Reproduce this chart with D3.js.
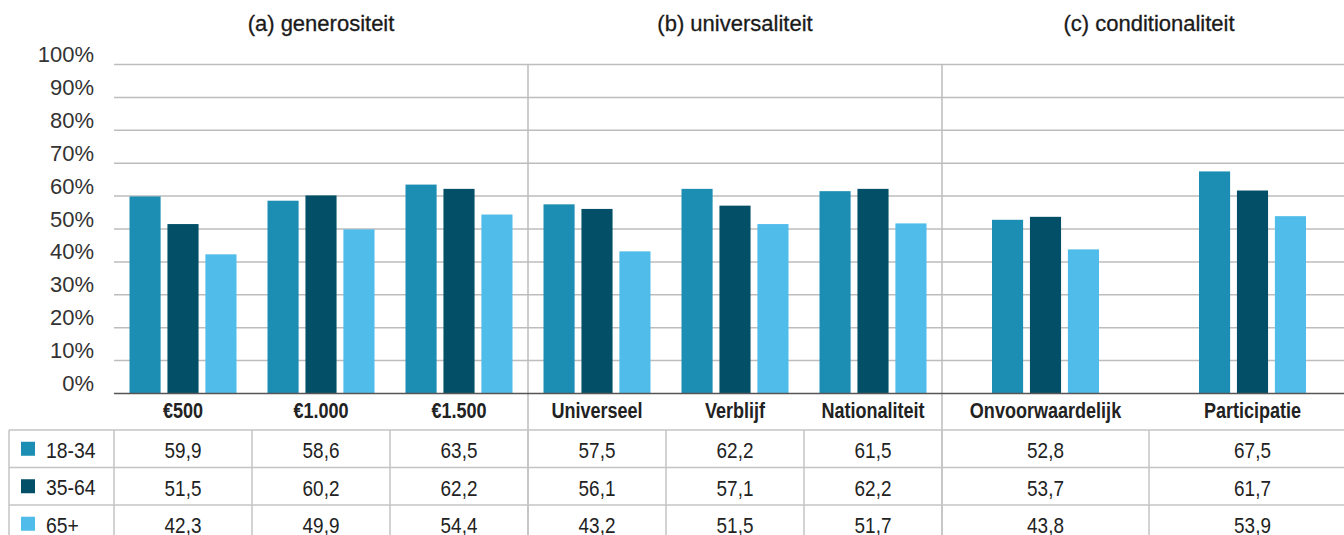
<!DOCTYPE html>
<html>
<head>
<meta charset="utf-8">
<script src="https://cdn.jsdelivr.net/npm/d3@7"></script>
<style>
  body { margin: 0; background: #fff; }
  svg { display: block; }
</style>
</head>
<body>
<div id="chart"></div>
<script>
var categories = ["€500", "€1.000", "€1.500", "Universeel", "Verblijf", "Nationaliteit", "Onvoorwaardelijk", "Participatie"]
var panelOf = [0, 0, 0, 1, 1, 1, 2, 2]
var panels = ["(a) generositeit", "(b) universaliteit", "(c) conditionaliteit"]
var series = ["18-34", "35-64", "65+"]
var v1834 = [59.9, 58.6, 63.5, 57.5, 62.2, 61.5, 52.8, 67.5]
var v3564 = [51.5, 60.2, 62.2, 56.1, 57.1, 62.2, 53.7, 61.7]
var v65 = [42.3, 49.9, 54.4, 43.2, 51.5, 51.7, 43.8, 53.9]
var yTicks = [0, 10, 20, 30, 40, 50, 60, 70, 80, 90, 100]

var values = [v1834, v3564, v65]
var colors = ["#1c8eb3", "#034f67", "#50bcea"]

var w = 1344, h = 535
var plotLeft = 114
var svg = d3.select("#chart").append("svg")
    .attr("width", w)
    .attr("height", h)

var font = "'Liberation Sans', Arial, sans-serif"

// condensed look: squeeze the text horizontally
function narrow(sel, x, y, sx) {
  sel.attr("transform", (d, i) => "translate(" + x(d, i) + "," + y(d, i) + ") scale(" + sx + ",1)")
}

var yScale = d3.scaleLinear().domain([0, 100]).range([393.5, 64.5])

// panels are 414 wide, the last one is cut off by the right edge
var panelScale = d3.scaleBand().domain(d3.range(panels.length)).range([plotLeft, plotLeft + 414 * 3])

function columnScale(p) {
  var cats = categories.filter((c, i) => panelOf[i] == p)
  return d3.scaleBand().domain(cats)
      .range([panelScale(p), panelScale(p) + panelScale.bandwidth()])
}
var colX = {}
panels.forEach((p, i) => {
  var s = columnScale(i)
  s.domain().forEach(c => { colX[c] = [s(c), s(c) + s.bandwidth()] })
})
function colMid(c) { return (colX[c][0] + colX[c][1]) / 2 }

// gridlines
svg.append("g").selectAll("line")
    .data(yTicks.filter(d => d > 0))
  .enter().append("line")
    .attr("x1", plotLeft).attr("x2", w)
    .attr("y1", d => yScale(d)).attr("y2", d => yScale(d))
    .attr("stroke", "#bdbdbd")
    .attr("stroke-width", 1.5)

// y labels
svg.append("g").selectAll("text")
    .data(yTicks)
  .enter().append("text")
    .attr("x", 94)
    .attr("y", d => yScale(d) - 2.5)
    .attr("text-anchor", "end")
    .style("font-family", font)
    .style("font-size", "22px")
    .style("fill", "#333")
    .text(d => d + "%")

// panel separators
var rowTop = 430, rowH = 37.5
svg.append("g").selectAll("line")
    .data([1, 2])
  .enter().append("line")
    .attr("x1", d => panelScale(d)).attr("x2", d => panelScale(d))
    .attr("y1", yScale(100)).attr("y2", h)
    .attr("stroke", "#bdbdbd")
    .attr("stroke-width", 1.5)

// panel titles
svg.append("g").selectAll("text")
    .data(panels)
  .enter().append("text")
    .attr("x", (d, i) => Math.min(panelScale(i) + panelScale.bandwidth() / 2, 1150))
    .attr("y", 31)
    .attr("text-anchor", "middle")
    .style("font-family", font)
    .style("font-size", "22px")
    .style("fill", "#1a1a1a")
    .style("stroke", "#1a1a1a")
    .style("stroke-width", 0.3)
    .text(d => d)

// bars
var groupW = 107
var bars = svg.append("g")
categories.forEach((c, ci) => {
  var cx = colMid(c)
  var inner = d3.scaleBand().domain(series)
      .range([cx - groupW / 2, cx + groupW / 2])
      .paddingInner(0.18)
  series.forEach((s, si) => {
    var v = values[si][ci]
    bars.append("rect")
        .attr("x", inner(s))
        .attr("y", yScale(v))
        .attr("width", inner.bandwidth())
        .attr("height", yScale(0) - yScale(v))
        .attr("fill", colors[si])
  })
})

// axis line
svg.append("line")
    .attr("x1", plotLeft).attr("x2", w)
    .attr("y1", yScale(0)).attr("y2", yScale(0))
    .attr("stroke", "#555")
    .attr("stroke-width", 1.5)

// category labels
svg.append("g").selectAll("text")
    .data(categories)
  .enter().append("text")
    .attr("text-anchor", "middle")
    .style("font-family", font)
    .style("font-size", "22px")
    .style("font-weight", "bold")
    .style("fill", "#222")
    .text(d => d)
    .call(narrow, d => colMid(d), d => 418, 0.82)

// table
var table = svg.append("g")
var gridC = "#c4c4c4"
d3.range(4).forEach(r => {
  table.append("line")
      .attr("x1", 9).attr("x2", w)
      .attr("y1", rowTop + r * rowH).attr("y2", rowTop + r * rowH)
      .attr("stroke", gridC).attr("stroke-width", 1.5)
})
var vlines = [9, plotLeft]
categories.forEach(c => vlines.push(colX[c][1]))
table.selectAll("line.v")
    .data(vlines)
  .enter().append("line")
    .attr("class", "v")
    .attr("x1", d => d).attr("x2", d => d)
    .attr("y1", rowTop).attr("y2", h)
    .attr("stroke", gridC).attr("stroke-width", 1.5)

series.forEach((s, si) => {
  var cy = rowTop + si * rowH + rowH / 2
  table.append("rect")
      .attr("x", 21).attr("y", cy - 7)
      .attr("width", 14).attr("height", 14)
      .attr("fill", colors[si])
  table.append("text")
      .style("font-family", font)
      .style("font-size", "22px")
      .style("fill", "#222")
      .text(s)
      .call(narrow, () => 46, () => cy + 9, 0.88)
  table.append("g").selectAll("text")
      .data(categories)
    .enter().append("text")
      .attr("text-anchor", "middle")
      .style("font-family", font)
      .style("font-size", "22px")
      .style("fill", "#222")
      .text((c, ci) => values[si][ci].toFixed(1).replace(".", ","))
      .call(narrow, c => colMid(c), () => cy + 9.5, 0.86)
})
</script>
</body>
</html>
